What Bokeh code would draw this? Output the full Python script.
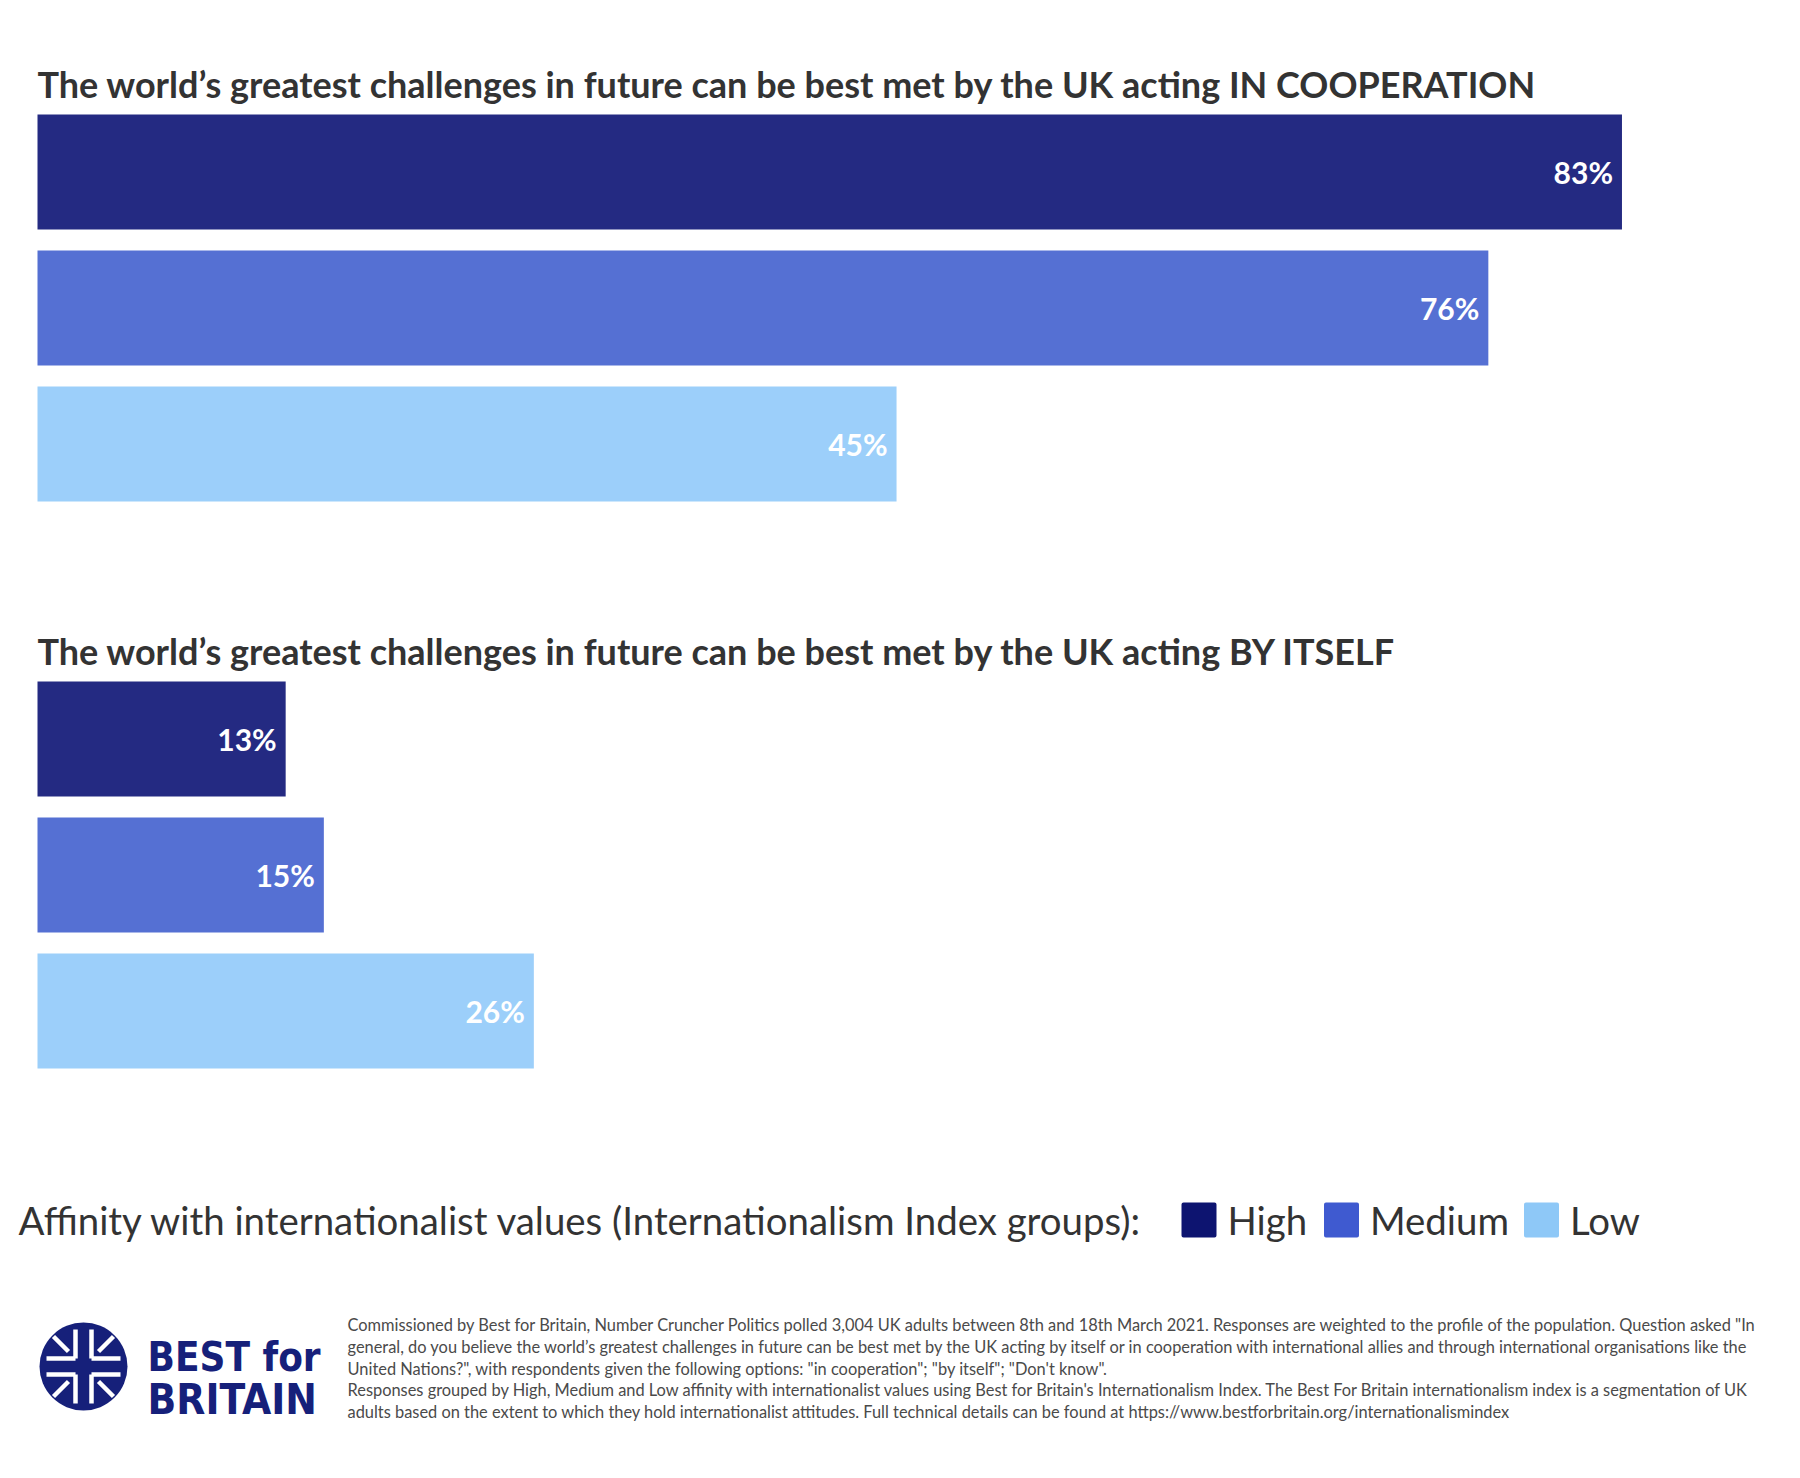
import numpy as np
from bokeh.plotting import figure
from bokeh.models import Range1d, ColumnDataSource
from bokeh.core.properties import value
from bokeh.embed import file_html
from bokeh.resources import INLINE

# ---- data ----
groups = ["IN COOPERATION", "BY ITSELF"]
categories = ["High", "Medium", "Low"]
coop_values = [83, 76, 45]
itself_values = [13, 15, 26]
titles = ["The world\u2019s greatest challenges in future can be best met by the UK acting IN COOPERATION",
          "The world\u2019s greatest challenges in future can be best met by the UK acting BY ITSELF"]
bar_colors = ["#242a82", "#5570d3", "#9ccffa"]
legend_colors = ["#0d1470", "#3f5ad0", "#8ec8f7"]
legend_title = "Affinity with internationalist values (Internationalism Index groups):"
footnote_lines = [
    "Commissioned by Best for Britain, Number Cruncher Politics polled 3,004 UK adults between 8th and 18th March 2021. Responses are weighted to the profile of the population. Question asked \"In",
    "general, do you believe the world\u2019s greatest challenges in future can be best met by the UK acting by itself or in cooperation with international allies and through international organisations like the",
    "United Nations?\", with respondents given the following options: \"in cooperation\"; \"by itself\"; \"Don't know\".",
    "Responses grouped by High, Medium and Low affinity with internationalist values using Best for Britain's Internationalism Index. The Best For Britain internationalism index is a segmentation of UK",
    "adults based on the extent to which they hold internationalist attitudes. Full technical details can be found at https://www.bestforbritain.org/internationalismindex",
]

W, H = 1784, 1462
FONT = "Lato"
PX_PER_PCT = 19.09
SHIFT = 7
X0 = 30  # data position of 0%

p = figure(width=W, height=H, output_backend="svg", toolbar_location=None,
           x_range=Range1d(-SHIFT, W - SHIFT), y_range=Range1d(H - SHIFT, -SHIFT),
           min_border=0, min_border_left=0, min_border_right=0,
           min_border_top=0, min_border_bottom=0)
p.axis.visible = False
p.grid.visible = False
p.outline_line_color = None
p.background_fill_color = "white"
p.extra_x_ranges = {"pct": Range1d(-(X0 + SHIFT) / PX_PER_PCT, (W - X0 - SHIFT) / PX_PER_PCT)}

group_tops = [107, 674]
pitch, bar_h = 136, 115
for gi, vals in enumerate([coop_values, itself_values]):
    ys = group_tops[gi] + np.arange(len(categories)) * pitch + bar_h / 2
    src = ColumnDataSource(dict(y=ys, v=vals, c=bar_colors,
                                lab=[f"{v}%" for v in vals]))
    p.hbar(y="y", left=0, right="v", height=bar_h, color="c", source=src,
           x_range_name="pct", line_color=None)
    p.text(x="v", y="y", text="lab", source=src, x_range_name="pct",
           x_offset=-9, text_align="right", text_baseline="middle",
           text_color="white", text_font=value(FONT), text_font_style="bold",
           text_font_size="30px")
    p.text(x=[0], y=[group_tops[gi] - 31], text=[titles[gi]], x_range_name="pct",
           text_align="left", text_baseline="middle", text_color="#333333",
           text_font=value(FONT), text_font_style="bold", text_font_size="36px")

# legend
LEG_Y = 1212.5
p.text(x=[11], y=[LEG_Y], text=[legend_title], text_align="left",
       text_baseline="middle", text_color="#333333", text_font=value(FONT),
       text_font_size="38.4px")
sq_x = [1191.5, 1334, 1534]
p.scatter(x=sq_x, y=[LEG_Y] * 3, marker="square", size=31,
          fill_color=legend_colors, line_color=legend_colors, line_width=4,
          line_join="round")
p.text(x=[x + 28.5 for x in sq_x], y=[LEG_Y] * 3, text=categories, text_align="left",
       text_baseline="middle", text_color="#333333", text_font=value(FONT),
       text_font_size="38.4px")

# logo
navy = "#16207a"
cx, cy, r = 76, 1359, 44
p.circle(x=[cx], y=[cy], radius=r, fill_color=navy, line_color=None)
o, L, d0, d1 = 8, 37, 15, 30
x0s, y0s, x1s, y1s = [], [], [], []
for sx in (-1, 1):
    for sy in (-1, 1):
        # L-shape hugging the central cross
        x0s += [cx + sx * o, cx + sx * o, cx + sx * d0]
        y0s += [cy + sy * o, cy + sy * o, cy + sy * d0]
        x1s += [cx + sx * o, cx + sx * L, cx + sx * d1]
        y1s += [cy + sy * L, cy + sy * o, cy + sy * d1]
p.segment(x0=x0s, y0=y0s, x1=x1s, y1=y1s, line_color="white", line_width=4.5,
          line_cap="butt")
p.text(x=[140], y=[1349], text=["BEST for"], text_align="left",
       text_baseline="middle", text_color=navy, text_font=value("DejaVu Sans Condensed"),
       text_font_style="bold", text_font_size="40px")
p.text(x=[140], y=[1392], text=["BRITAIN"], text_align="left",
       text_baseline="middle", text_color=navy, text_font=value("DejaVu Sans Condensed"),
       text_font_style="bold", text_font_size="42px")

# footnote
p.text(x=[340] * len(footnote_lines), y=[1317 + 21.8 * i for i in range(len(footnote_lines))],
       text=footnote_lines, text_align="left", text_baseline="middle",
       text_color="#4a4a4a", text_font=value(FONT), text_font_size="16.4px")

open("out.html", "w").write(file_html(p, INLINE))
